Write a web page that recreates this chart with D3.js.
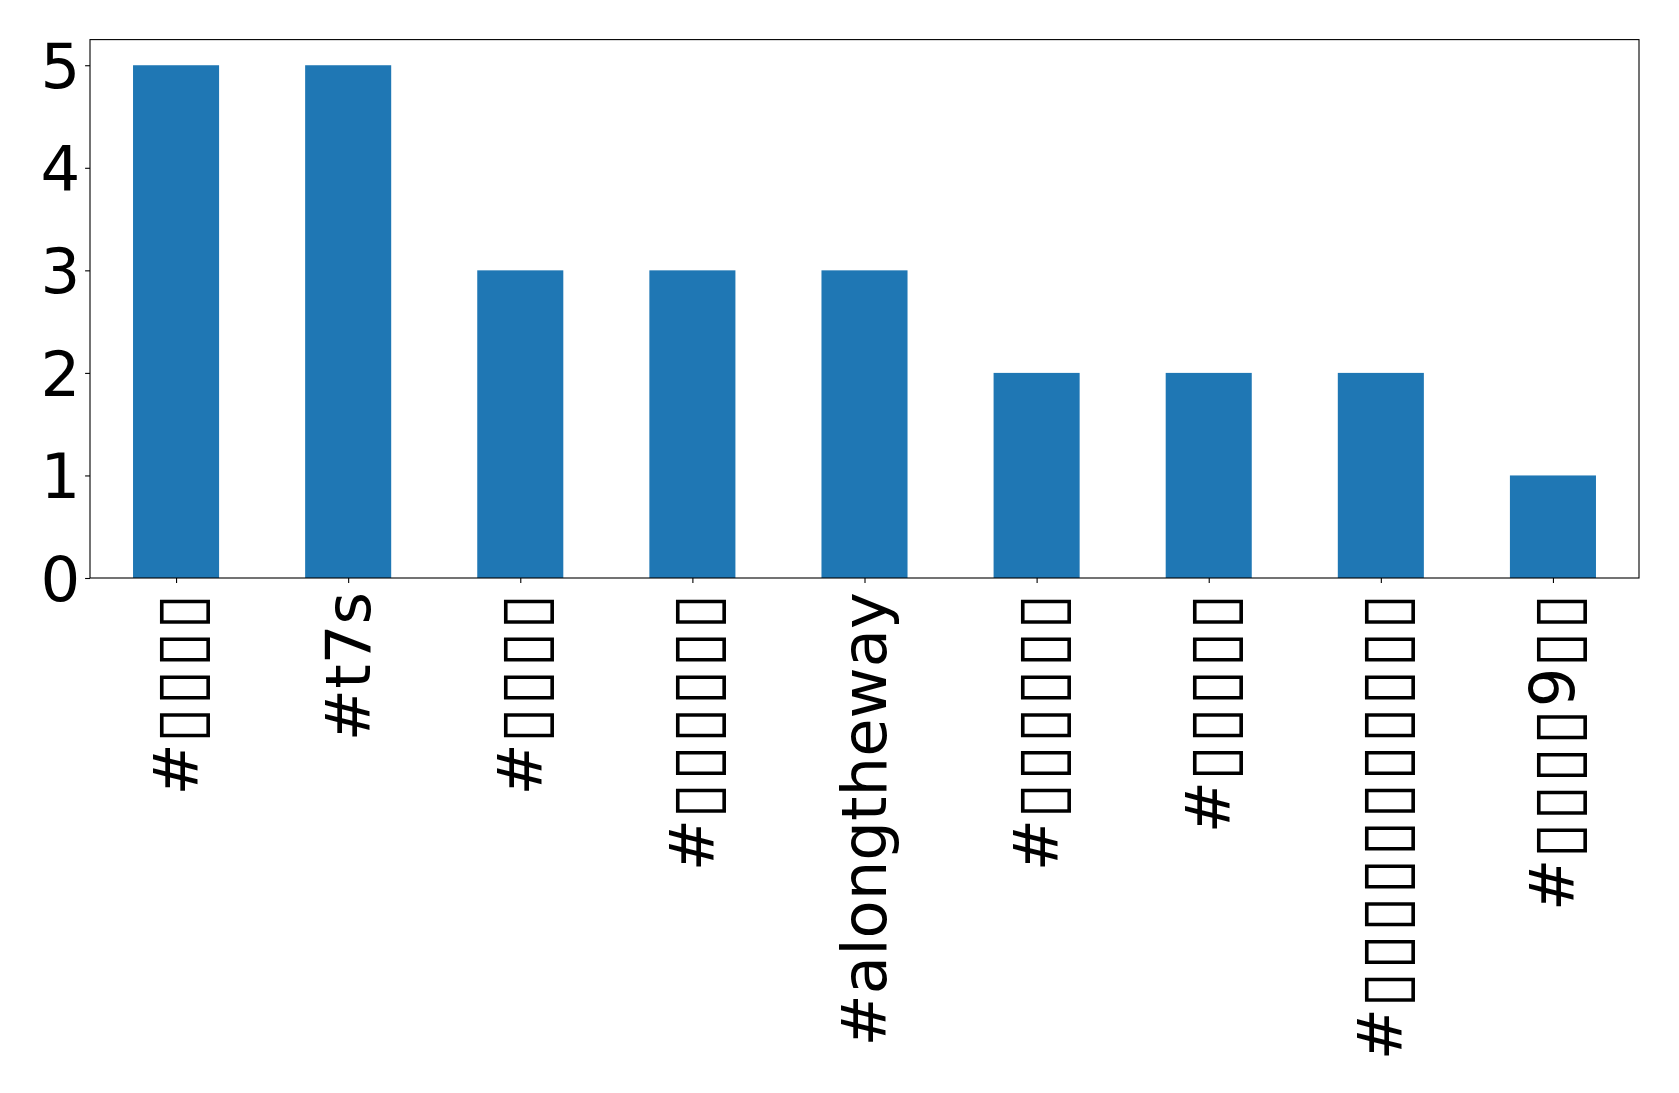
<!DOCTYPE html>
<html><head><meta charset="utf-8">
<script src="https://cdn.jsdelivr.net/npm/d3@7"></script>
<style>body{margin:0;background:#fff}svg{display:block}text{font-family:"DejaVu Sans";}</style>
</head><body>
<script>
const categories = ["#▯▯▯▯","#t7s","#▯▯▯▯","#▯▯▯▯▯▯","#alongtheway","#▯▯▯▯▯▯","#▯▯▯▯▯","#▯▯▯▯▯▯▯▯▯▯▯","#▯▯▯▯9▯▯"];
const counts = [5,5,3,3,3,2,2,2,1];
const yTicks = [0,1,2,3,4,5];

const W=1679,H=1093;
const L=90,R=1639,T=39.6,B=578;
const fs=62.5, boxFs=65.6, boxShift=4.4, boxSpacing=1.7;
const svg=d3.select("body").append("svg").attr("width",W).attr("height",H);
const x=d3.scaleLinear().domain([-0.5,categories.length-0.5]).range([L,R]);
const y=d3.scaleLinear().domain([0,5.25]).range([B,T]);

svg.selectAll("rect.bar").data(counts).join("rect").attr("class","bar")
  .attr("x",(d,i)=>x(i-0.25)).attr("width",(d,i)=>x(i+0.25)-x(i-0.25))
  .attr("y",d=>y(d)).attr("height",d=>y(0)-y(d)).attr("fill","#1f77b4");

const yAxis=d3.axisLeft(y).tickValues(yTicks).tickFormat(d3.format("d")).tickSize(4.9).tickPadding(4.9);
const gy=svg.append("g").attr("transform",`translate(${L},0)`).call(yAxis);
gy.select(".domain").remove();
gy.selectAll("line").attr("stroke","#000").attr("stroke-width",1.1);
gy.selectAll("text").attr("font-size",fs).attr("font-family","DejaVu Sans").attr("fill","#000").attr("dy","0.36em");

const xAxis=d3.axisBottom(x).tickValues(d3.range(categories.length)).tickFormat(i=>categories[i]).tickSize(4.9).tickPadding(0);
const gx=svg.append("g").attr("transform",`translate(0,${B})`).call(xAxis);
gx.select(".domain").remove();
gx.selectAll("line").attr("stroke","#000").attr("stroke-width",1.1);
gx.selectAll("text").each(function(i){
  const t=d3.select(this);
  const label=categories[i];
  t.text(null).attr("font-size",fs).attr("font-family","DejaVu Sans").attr("fill","#000")
    .attr("text-anchor","end").attr("y",0).attr("dy",0)
    .attr("transform","translate(21,14) rotate(-90)");
  const runs=label.match(/▯+|[^▯]+/g);
  let shifted=false;
  runs.forEach(r=>{
    const isBox=r[0]==="▯";
    const sp=t.append("tspan").text(r);
    if(isBox){ sp.attr("font-size",boxFs).attr("letter-spacing",boxSpacing); if(!shifted){sp.attr("dy",boxShift);shifted=true;} }
    else if(shifted){ sp.attr("dy",-boxShift); shifted=false; }
  });
});

svg.append("rect").attr("x",L).attr("y",T).attr("width",R-L).attr("height",B-T)
  .attr("fill","none").attr("stroke","#000").attr("stroke-width",1.1);
</script>
</body></html>
